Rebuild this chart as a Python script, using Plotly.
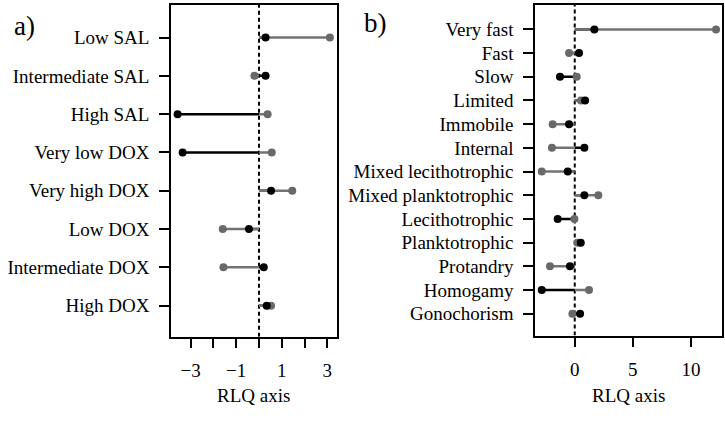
import plotly.graph_objects as go

# Panel a data (top to bottom)
cats_a = ["Low SAL", "Intermediate SAL", "High SAL", "Very low DOX",
          "Very high DOX", "Low DOX", "Intermediate DOX", "High DOX"]
black_a = [0.29, 0.29, -3.57, -3.35, 0.53, -0.44, 0.21, 0.34]
grey_a = [3.11, -0.20, 0.38, 0.56, 1.46, -1.59, -1.56, 0.53]

# Panel b data (top to bottom)
cats_b = ["Very fast", "Fast", "Slow", "Limited", "Immobile", "Internal",
          "Mixed lecithotrophic", "Mixed planktotrophic", "Lecithotrophic",
          "Planktotrophic", "Protandry", "Homogamy", "Gonochorism"]
black_b = [1.69, 0.37, -1.27, 0.89, -0.49, 0.83, -0.60, 0.83, -1.47, 0.52, -0.41, -2.84, 0.46]
grey_b = [12.16, -0.49, 0.17, 0.54, -1.90, -1.96, -2.84, 2.03, -0.03, 0.23, -2.13, 1.23, -0.20]

ticks_a = [-3, -2, -1, 0, 1, 2, 3]
ticklabels_a = ["\u22123", "", "\u22121", "", "1", "", "3"]
ticks_b = [0, 5, 10]
ticklabels_b = ["0", "5", "10"]

FONT = "Liberation Serif, Times New Roman, DejaVu Serif, serif"
BLACK = "#000000"
GREY_PT = "#696969"
GREY_LN = "#737373"

W, H = 725, 425
fig = go.Figure()


def seg(vals, ys):
    xs, yy = [], []
    for v, y in zip(vals, ys):
        xs += [0, v, None]
        yy += [y, y, None]
    return xs, yy


def add_panel(cats, blk, gry, xa, ya, yrange):
    n = len(cats)
    ys = [n - i for i in range(n)]
    fig.add_trace(go.Scatter(x=[0, 0], y=list(yrange), mode="lines",
                             line=dict(color=BLACK, width=2, dash="4px,3px"),
                             xaxis=xa, yaxis=ya, showlegend=False, hoverinfo="skip"))
    x, y = seg(blk, ys)
    fig.add_trace(go.Scatter(x=x, y=y, mode="lines", line=dict(color=BLACK, width=2.5),
                             xaxis=xa, yaxis=ya, showlegend=False, hoverinfo="skip"))
    x, y = seg(gry, ys)
    fig.add_trace(go.Scatter(x=x, y=y, mode="lines", line=dict(color=GREY_LN, width=2.5),
                             xaxis=xa, yaxis=ya, showlegend=False, hoverinfo="skip"))
    fig.add_trace(go.Scatter(x=gry, y=ys, mode="markers",
                             marker=dict(color=GREY_PT, size=8, line=dict(width=0)),
                             xaxis=xa, yaxis=ya, showlegend=False))
    fig.add_trace(go.Scatter(x=blk, y=ys, mode="markers",
                             marker=dict(color=BLACK, size=8, line=dict(width=0)),
                             xaxis=xa, yaxis=ya, showlegend=False))
    return ys


ys_a = add_panel(cats_a, black_a, grey_a, "x", "y", (0.19, 8.85))
ys_b = add_panel(cats_b, black_b, grey_b, "x2", "y2", (0.08, 14.03))

axis_common = dict(showline=True, linecolor=BLACK, linewidth=1.5, mirror=True,
                   ticks="outside", ticklen=10, tickwidth=1.5, tickcolor=BLACK,
                   showgrid=False, zeroline=False,
                   tickfont=dict(family=FONT, size=19, color=BLACK))

fig.update_layout(
    width=W, height=H, margin=dict(l=0, r=0, t=0, b=0),
    paper_bgcolor="white", plot_bgcolor="white",
    font=dict(family=FONT, size=19, color=BLACK),
    xaxis=dict(domain=[171 / W, 336.7 / W], range=[-3.86, 3.41], anchor="y",
               tickvals=ticks_a, ticktext=ticklabels_a, ticklabelstandoff=6, **axis_common),
    yaxis=dict(domain=[1 - 336.7 / H, 1 - 5 / H], range=[0.19, 8.85], anchor="x",
               tickvals=ys_a, ticktext=cats_a, ticklabelstandoff=6, **axis_common),
    xaxis2=dict(domain=[535 / W, 722.3 / W], range=[-3.42, 12.7], anchor="y2",
                tickvals=ticks_b, ticktext=ticklabels_b, ticklabelstandoff=6, **axis_common),
    yaxis2=dict(domain=[1 - 335.5 / H, 1 - 5 / H], range=[0.08, 14.03], anchor="x2",
                tickvals=ys_b, ticktext=cats_b, ticklabelstandoff=6, **axis_common),
    annotations=[
        dict(text="RLQ axis", x=(171 + 336.7) / 2 / W, y=1 - 395 / H, xref="paper", yref="paper",
             showarrow=False, font=dict(family=FONT, size=19, color=BLACK),
             xanchor="center", yanchor="middle"),
        dict(text="RLQ axis", x=(535 + 722.3) / 2 / W, y=1 - 395 / H, xref="paper", yref="paper",
             showarrow=False, font=dict(family=FONT, size=19, color=BLACK),
             xanchor="center", yanchor="middle"),
        dict(text="a)", x=24 / W, y=1 - 26 / H, xref="paper", yref="paper",
             showarrow=False, font=dict(family=FONT, size=27, color=BLACK),
             xanchor="center", yanchor="middle"),
        dict(text="b)", x=375 / W, y=1 - 23 / H, xref="paper", yref="paper",
             showarrow=False, font=dict(family=FONT, size=27, color=BLACK),
             xanchor="center", yanchor="middle"),
    ],
)

fig.write_html("out.html")
